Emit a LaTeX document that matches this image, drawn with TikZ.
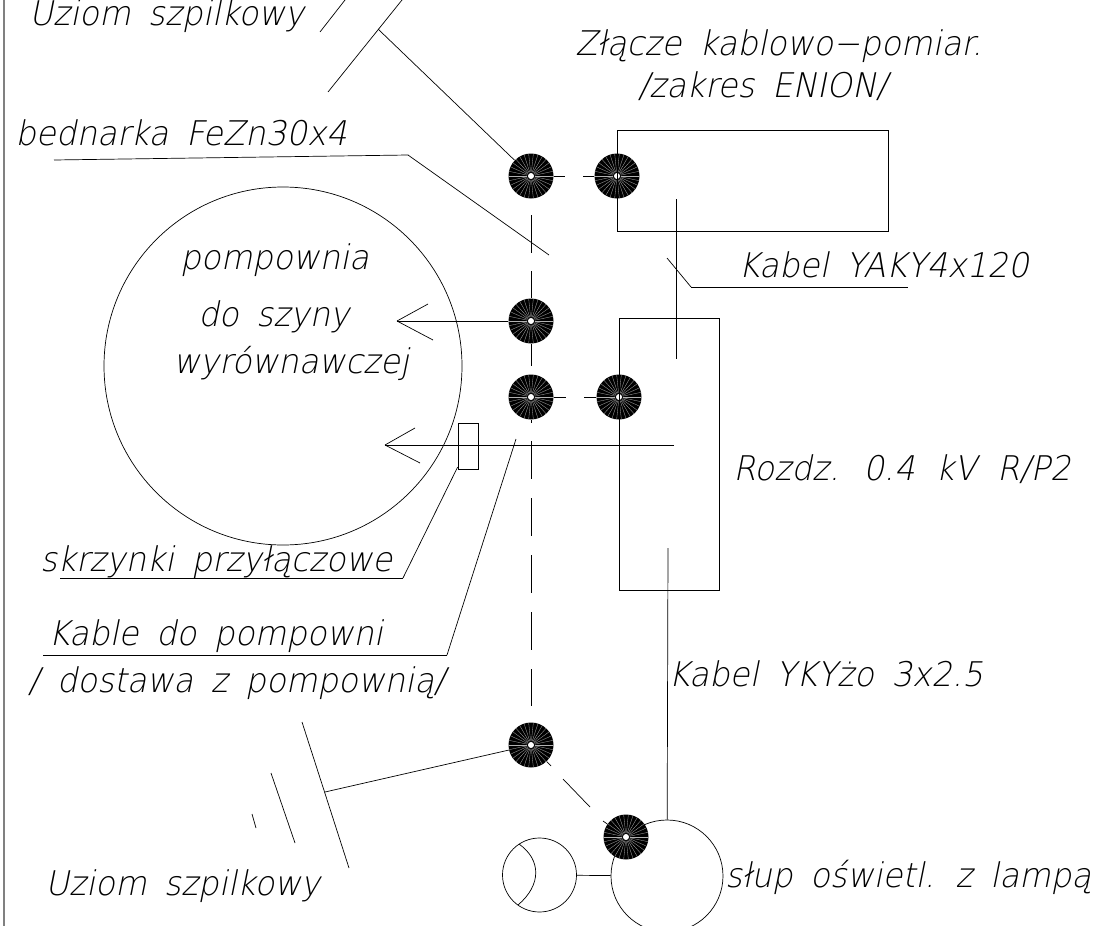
\documentclass[tikz,border=0pt]{standalone}
\usepackage{fontspec}
\newfontfamily\cadfont[FakeSlant=0.2,FakeStretch=0.955,WordSpace=1.7]{DejaVu Sans ExtraLight}
\tikzset{
	wire/.style={line width=0.7pt},
	label/.style={anchor=base west, inner sep=0pt, font=\cadfont\fontsize{34}{34}\selectfont},
	bolt/.style={circle, fill=black, inner sep=0pt, minimum size=45pt,
		path picture={
			\foreach \ang in {0,12,...,348}
				\draw[white!70!black, line width=0.3pt] (path picture bounding box.center) ++(\ang:4) -- ++(\ang:20);
			\fill[white] (path picture bounding box.center) circle (3);
		}},
}
\begin{document}
\begin{tikzpicture}[x=1pt, y=-1pt, wire]
	\useasboundingbox (0,0) rectangle (1101,926);
	\clip (0,0) rectangle (1101,926);

	\node[bolt] (b1) at (531,176) {};
	\node[bolt] (b2) at (617,176) {};
	\node[bolt] (b3) at (531,321) {};
	\node[bolt] (b4) at (531,397) {};
	\node[bolt] (b5) at (619,397) {};
	\node[bolt] (b6) at (531,745) {};
	\node[draw, circle, minimum size=112pt, inner sep=0pt] (pole) at (667,876) {};
	\node[bolt] (b7) at (626,837) {};

	\node[draw, circle, minimum size=358pt, inner sep=0pt] (pump) at (283,366) {};
	\node[draw, circle, minimum size=74pt, inner sep=0pt] (lamp) at (539.5,875) {};
	\node[draw, rectangle, minimum width=271pt, minimum height=101pt, inner sep=0pt] (joint) at (752.5,180.5) {};
	\node[draw, rectangle, minimum width=100pt, minimum height=272pt, inner sep=0pt] (board) at (669,454) {};
	\node[draw, rectangle, minimum width=20pt, minimum height=46pt, inner sep=0pt] (box) at (468,446) {};

	\node[label] (t1) at (29,25) {Uziom szpilkowy};
	\node[label] (t2) at (575,55) {Złącze kablowo−pomiar.};
	\node[label] (t3) at (638,97) {/zakres ENION/};
	\node[label] (t4) at (15,145) {bednarka FeZn30x4};
	\node[label] (t5) at (180,269) {pompownia};
	\node[label] (t6) at (198,326) {do szyny};
	\node[label] (t7) at (173,373) {wyrównawczej};
	\node[label] (t8) at (738,277) {Kabel YAKY4x120};
	\node[label] (t9) at (733,480) {Rozdz.\hspace{3pt} 0.4\hspace{3pt} kV\hspace{3pt} R/P2};
	\node[label] (t10) at (40,571) {skrzynki przyłączowe};
	\node[label] (t11) at (48,645) {Kable do pompowni};
	\node[label] (t12) at (28,692) {/ dostawa z pompownią/};
	\node[label] (t13) at (668,686) {Kabel YKYżo 3x2.5};
	\node[label] (t14) at (45,895) {Uziom szpilkowy};
	\node[label] (t15) at (725,887) {słup oświetl. z lampą};

	\coordinate (e1a) at (320,32);
	\coordinate (e1b) at (345,0);
	\coordinate (e2a) at (328,92);
	\coordinate (e2b) at (402,0);
	\coordinate (e2c) at (378,29);
	\coordinate (l1a) at (54,160);
	\coordinate (l1b) at (408,155);
	\coordinate (l1c) at (549,255);
	\coordinate (c1a) at (676,199);
	\coordinate (c1b) at (676,359);
	\coordinate (l2a) at (667,258);
	\coordinate (l2b) at (691,287);
	\coordinate (l2c) at (908,287);
	\coordinate (a1) at (397,321);
	\coordinate (a1u) at (428,304);
	\coordinate (a1d) at (433,340);
	\coordinate (a2s) at (674,445);
	\coordinate (a2) at (385,445);
	\coordinate (a2u) at (415,428);
	\coordinate (a2d) at (420,463);
	\coordinate (l3b) at (403,578);
	\coordinate (l3c) at (60,578);
	\coordinate (l4a) at (516,439);
	\coordinate (l4b) at (447,655);
	\coordinate (l4c) at (43,655);
	\coordinate (e3a) at (302,722);
	\coordinate (e3b) at (349,868);
	\coordinate (e3c) at (325,792);
	\coordinate (e4a) at (271,773);
	\coordinate (e4b) at (295,843);
	\coordinate (e5a) at (252,814);
	\coordinate (e5b) at (256,828);
	\coordinate (c2a) at (668,548);
	\coordinate (f1) at (4,0);
	\coordinate (f2) at (4,926);
	\coordinate (m1) at (519,844);
	\coordinate (m2) at (518,905);
	% dash ends
	\coordinate (s1) at (565,176);
	\coordinate (s2) at (583,176);
	\coordinate (s3) at (566,397);
	\coordinate (s4) at (584,397);
	\coordinate (v1a) at (531,215);
	\coordinate (v1b) at (531,253);
	\coordinate (v1c) at (531,271);
	\coordinate (v2) at (531,366);
	\coordinate (v3) at (531,423);
	\coordinate (v4a) at (531,441);
	\coordinate (v4b) at (531,706);
	\coordinate (d1) at (551,766);
	\coordinate (d2) at (563,779);
	\coordinate (d3) at (590,807);
	\coordinate (d4) at (603,821);

	\path
		(f1) edge[gray, line width=1.6pt] (f2)
		(e1a) edge (e1b)
		(e2a) edge (e2b)
		(e2c) edge (b1)
		(l1a) edge (l1b)
		(l1b) edge (l1c)
		(c1a) edge (c1b)
		(l2a) edge (l2b)
		(l2b) edge (l2c)
		(a1) edge (b3)
		(a1) edge (a1u)
		(a1) edge (a1d)
		(a2s) edge (a2)
		(a2) edge (a2u)
		(a2) edge (a2d)
		(box) edge (l3b)
		(l3b) edge (l3c)
		(l4a) edge (l4b)
		(l4b) edge (l4c)
		(e3a) edge (e3b)
		(e4a) edge (e4b)
		(e5a) edge (e5b)
		(e3c) edge (b6)
		(c2a) edge (pole)
		(lamp) edge (pole)

		(b1) edge (s1)
		(s2) edge (b2)
		(b4) edge (s3)
		(s4) edge (b5)
		(v1a) edge (v1b)
		(v1c) edge (b3)
		(b3) edge (v2)
		(b4) edge (v3)
		(v4a) edge[dash pattern=on 38pt off 19pt] (v4b)
		(b6) edge (d1)
		(d2) edge (d3)
		(d4) edge (b7)
	;
	\draw (m1) .. controls (541.5,860) and (541.5,885) .. (m2);
\end{tikzpicture}
\end{document}
